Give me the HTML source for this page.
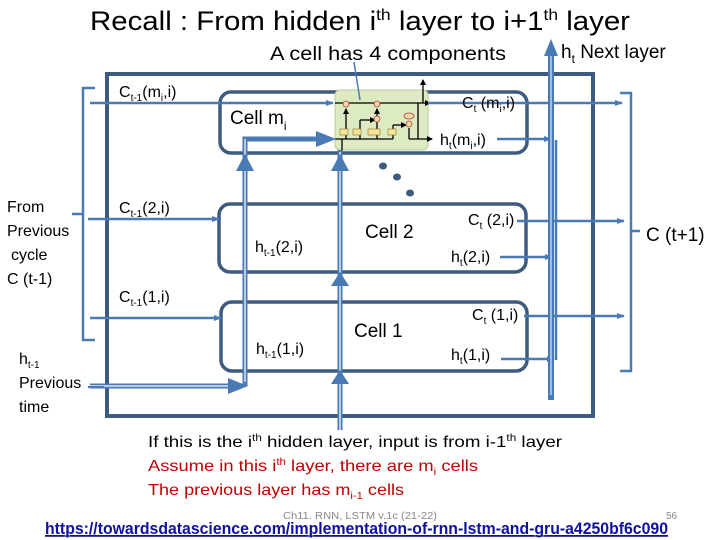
<!DOCTYPE html>
<html><head><meta charset="utf-8"><style>
html,body{margin:0;padding:0;background:#fff;}
svg{display:block;font-family:"Liberation Sans",sans-serif;}
</style></head><body>
<svg width="720" height="540" viewBox="0 0 720 540" xmlns="http://www.w3.org/2000/svg">
<defs>
<marker id="a" markerWidth="8" markerHeight="8" refX="7" refY="4" orient="auto" markerUnits="userSpaceOnUse"><path d="M0,1 L8,4 L0,7z" fill="#4a7ab4"/></marker>
<marker id="k" markerWidth="6" markerHeight="6" refX="5" refY="3" orient="auto" markerUnits="userSpaceOnUse"><path d="M0,0 L6,3 L0,6z" fill="#000"/></marker>
</defs>
<text x="90" y="30" font-size="27" fill="#000" textLength="540" lengthAdjust="spacingAndGlyphs">Recall : From hidden i<tspan font-size="16" dy="-10">th</tspan><tspan dy="10"> layer to i+1</tspan><tspan font-size="16" dy="-10">th</tspan><tspan dy="10"> layer</tspan></text>
<text x="270" y="60" font-size="19" textLength="236" lengthAdjust="spacingAndGlyphs">A cell has 4 components</text>
<text x="561" y="58" font-size="19">h<tspan font-size="12" dy="5">t</tspan><tspan dy="-5"> Next layer</tspan></text>

<rect x="107" y="74" width="486" height="342" fill="none" stroke="#3d5a80" stroke-width="4"/>

<rect x="220" y="92" width="307" height="61" rx="11" fill="none" stroke="#3d5a80" stroke-width="3.5"/>
<rect x="219" y="204" width="307" height="68" rx="11" fill="none" stroke="#3d5a80" stroke-width="3.5"/>
<rect x="221" y="302" width="306" height="69" rx="11" fill="none" stroke="#3d5a80" stroke-width="3.5"/>

<rect x="335" y="90" width="93" height="60" rx="5" fill="#dcebc2" stroke="#b8cc98"/>
<g stroke="#000" stroke-width="1.3" fill="none">
<line x1="335" y1="103" x2="430" y2="103" marker-end="url(#k)"/>
<line x1="335" y1="139" x2="393" y2="139"/>
<line x1="346" y1="139" x2="346" y2="109" marker-end="url(#k)"/>
<line x1="360" y1="139" x2="360" y2="120"/><line x1="360" y1="120" x2="375" y2="120" marker-end="url(#k)"/>
<line x1="377" y1="139" x2="377" y2="109" marker-end="url(#k)"/>
<line x1="393" y1="139" x2="393" y2="125"/><line x1="393" y1="125" x2="406" y2="125" marker-end="url(#k)"/>
<line x1="409" y1="128" x2="409" y2="139"/><line x1="409" y1="139" x2="432" y2="139" marker-end="url(#k)"/>
<line x1="418" y1="103" x2="418" y2="139"/>
<line x1="423" y1="103" x2="423" y2="80" marker-end="url(#k)"/>
<line x1="342" y1="139" x2="342" y2="152"/>
</g>
<g fill="#f4d9a8" stroke="#b04040" stroke-width="0.8">
<circle cx="346" cy="104" r="3"/><circle cx="377" cy="104" r="3"/><circle cx="377" cy="119" r="3"/><circle cx="409" cy="124" r="3"/><ellipse cx="409" cy="116" rx="5" ry="3"/>
</g>
<g fill="#f6e49a" stroke="#a08030" stroke-width="0.7">
<rect x="340" y="129" width="8" height="6"/><rect x="353" y="129" width="8" height="6"/><rect x="368" y="129" width="12" height="6"/><rect x="388" y="129" width="8" height="6"/>
</g>
<line x1="354" y1="62" x2="360" y2="100" stroke="#4a7ab4" stroke-width="1.5"/>

<g stroke="#4a7ab4" stroke-width="2.5" fill="none">
<line x1="90" y1="103" x2="333" y2="103" marker-end="url(#a)"/>
<line x1="88" y1="219" x2="219" y2="219" marker-end="url(#a)"/>
<line x1="90" y1="318" x2="221" y2="318" marker-end="url(#a)"/>
<path d="M95,88 H83 V340 H95 M83,214 H72"/>
<line x1="428" y1="103" x2="622" y2="103" marker-end="url(#a)"/>
<line x1="517" y1="221" x2="624" y2="221" marker-end="url(#a)"/>
<line x1="524" y1="316" x2="624" y2="316" marker-end="url(#a)"/>
<line x1="497" y1="139" x2="551" y2="139" marker-end="url(#a)"/>
<line x1="500" y1="257" x2="552" y2="257" marker-end="url(#a)"/>
<line x1="501" y1="359" x2="554" y2="359" marker-end="url(#a)"/>
<line x1="556" y1="360" x2="556" y2="140"/>
<path d="M620,93 H631 V371 H620 M631,231 H640"/>
</g>
<line x1="551" y1="54" x2="551" y2="400" stroke="#4a7ab4" stroke-width="6"/>
<line x1="551" y1="56" x2="551" y2="395" stroke="#fff" stroke-width="1"/>
<path d="M544,56 L551,39 L558,56z" fill="#4a7ab4"/>

<g stroke="#4a7ab4" stroke-width="5" fill="none">
<path d="M90,386 H242 M245,386 V139 H318"/>
<path d="M340,430 V150"/>
</g>
<g stroke="#fff" stroke-width="1.2" fill="none">
<path d="M90,386 H238"/>
<path d="M245,382 V139"/>
<path d="M340,430 V152"/>
</g>
<path d="M228,378 L248,386 L228,394z" fill="#4a7ab4"/>
<path d="M316,131 L336,139 L316,147z" fill="#4a7ab4"/>
<path d="M236,171 L245,154 L254,171z" fill="#4a7ab4"/>
<path d="M331,171 L340,154 L349,171z" fill="#4a7ab4"/>
<path d="M331,286 L340,272 L349,286z" fill="#4a7ab4"/>
<path d="M331,384 L340,370 L349,384z" fill="#4a7ab4"/>

<g fill="#3d5a80"><ellipse cx="383" cy="166" rx="4" ry="3.5"/><ellipse cx="397" cy="177" rx="4" ry="3.5"/><ellipse cx="410" cy="193" rx="4" ry="3.5"/></g>

<g font-size="16" fill="#000">
<text x="119" y="97">C<tspan font-size="10" dy="4">t-1</tspan><tspan dy="-4">(m</tspan><tspan font-size="10" dy="4">i</tspan><tspan dy="-4">,i)</tspan></text>
<text x="119" y="213">C<tspan font-size="10" dy="4">t-1</tspan><tspan dy="-4">(2,i)</tspan></text>
<text x="119" y="302">C<tspan font-size="10" dy="4">t-1</tspan><tspan dy="-4">(1,i)</tspan></text>
<text x="230" y="124" font-size="19">Cell m<tspan font-size="12" dy="6">i</tspan></text>
<text x="365" y="238" font-size="19">Cell 2</text>
<text x="354" y="337" font-size="19">Cell 1</text>
<text x="255" y="252">h<tspan font-size="10" dy="4">t-1</tspan><tspan dy="-4">(2,i)</tspan></text>
<text x="256" y="354">h<tspan font-size="10" dy="4">t-1</tspan><tspan dy="-4">(1,i)</tspan></text>
<text x="462" y="108">C<tspan font-size="10" dy="4">t</tspan><tspan dy="-4"> (m</tspan><tspan font-size="10" dy="4">i</tspan><tspan dy="-4">,i)</tspan></text>
<text x="440" y="145">h<tspan font-size="10" dy="4">t</tspan><tspan dy="-4">(m</tspan><tspan font-size="10" dy="4">i</tspan><tspan dy="-4">,i)</tspan></text>
<text x="468" y="225">C<tspan font-size="10" dy="4">t</tspan><tspan dy="-4"> (2,i)</tspan></text>
<text x="451" y="262">h<tspan font-size="10" dy="4">t</tspan><tspan dy="-4">(2,i)</tspan></text>
<text x="472" y="320">C<tspan font-size="10" dy="4">t</tspan><tspan dy="-4"> (1,i)</tspan></text>
<text x="451" y="360">h<tspan font-size="10" dy="4">t</tspan><tspan dy="-4">(1,i)</tspan></text>
<text x="646" y="241" font-size="19">C (t+1)</text>
<text x="7" y="212">From</text>
<text x="7" y="236">Previous</text>
<text x="11" y="260">cycle</text>
<text x="7" y="284">C (t-1)</text>
<text x="19" y="364">h<tspan font-size="10" dy="4">t-1</tspan></text>
<text x="19" y="388">Previous</text>
<text x="19" y="412">time</text>
</g>
<line x1="88" y1="387" x2="104" y2="387" stroke="#4a7ab4" stroke-width="2"/>

<g font-size="16">
<text x="148" y="447" fill="#000" textLength="414" lengthAdjust="spacingAndGlyphs">If this is the i<tspan font-size="10" dy="-6">th</tspan><tspan dy="6"> hidden layer, input is from i-1</tspan><tspan font-size="10" dy="-6">th</tspan><tspan dy="6"> layer</tspan></text>
<text x="148" y="471" fill="#c00000" textLength="330" lengthAdjust="spacingAndGlyphs">Assume in this i<tspan font-size="10" dy="-6">th</tspan><tspan dy="6"> layer, there are m</tspan><tspan font-size="10" dy="4">i</tspan><tspan dy="-4"> cells</tspan></text>
<text x="148" y="495" fill="#c00000" textLength="256" lengthAdjust="spacingAndGlyphs">The previous layer has m<tspan font-size="10" dy="4">i-1</tspan><tspan dy="-4"> cells</tspan></text>
</g>
<text x="283" y="519" font-size="10" fill="#888" textLength="154" lengthAdjust="spacingAndGlyphs">Ch11. RNN, LSTM v.1c (21-22)</text>
<text x="666" y="519" font-size="10" fill="#888">56</text>
<text x="45" y="534" font-size="17" font-weight="bold" fill="#1010a0" text-decoration="underline" textLength="623" lengthAdjust="spacingAndGlyphs">https://towardsdatascience.com/implementation-of-rnn-lstm-and-gru-a4250bf6c090</text>
<line x1="45" y1="536" x2="668" y2="536" stroke="#1010a0" stroke-width="1.3"/>
</svg>
</body></html>
